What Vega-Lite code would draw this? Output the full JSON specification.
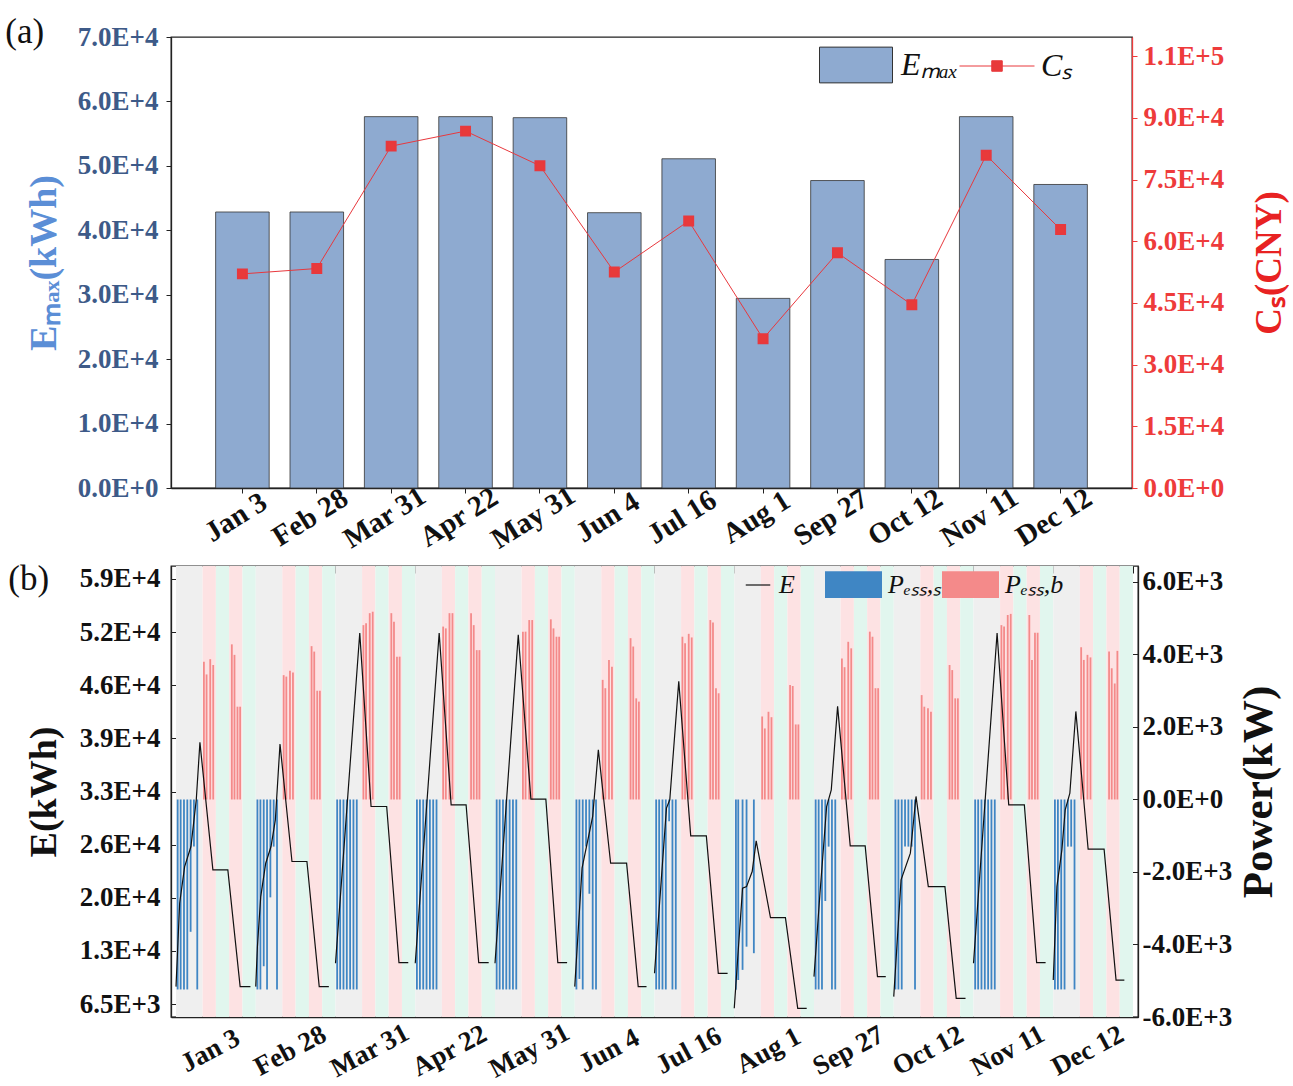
{
 "$schema": "https://vega.github.io/schema/vega-lite/v6.json",
 "background": "white",
 "padding": {"left": 4, "top": 14, "right": 0, "bottom": 0},
 "spacing": 0,
 "resolve": {"scale": {"fill": "independent", "stroke": "independent", "color": "independent"}},
 "config": {
  "font": "Liberation Serif",
  "view": {"stroke": "#222", "strokeWidth": 1.3},
  "axis": {"labelFont": "Liberation Serif", "labelFontWeight": "bold", "labelFontSize": 27, "titleFont": "Liberation Serif", "titleFontWeight": "bold", "grid": false, "domainColor": "#222", "domainWidth": 1.3, "tickColor": "#222", "tickSize": 5, "labelColor": "#111", "titleColor": "#111"},
  "legend": {"labelFont": "Liberation Serif", "labelFontStyle": "italic", "labelColor": "#111", "padding": 0},
  "title": {"font": "Liberation Serif", "fontWeight": "normal", "fontSize": 35, "anchor": "start", "frame": "bounds", "color": "#111", "baseline": "top"}
 },
 "datasets": {
  "a": [
   {"m": "Jan 3", "e": 42840, "c": 52080},
   {"m": "Feb 28", "e": 42840, "c": 53390},
   {"m": "Mar 31", "e": 57640, "c": 83160},
   {"m": "Apr 22", "e": 57640, "c": 86810},
   {"m": "May 31", "e": 57480, "c": 78390},
   {"m": "Jun 4", "e": 42730, "c": 52520},
   {"m": "Jul 16", "e": 51100, "c": 64950},
   {"m": "Aug 1", "e": 29430, "c": 36300},
   {"m": "Sep 27", "e": 47720, "c": 57200},
   {"m": "Oct 12", "e": 35470, "c": 44570},
   {"m": "Nov 11", "e": 57640, "c": 80960},
   {"m": "Dec 12", "e": 47110, "c": 62860}
  ],
  "bg": [
   {"a": 0, "b": 8, "k": "v"}, {"a": 8, "b": 12, "k": "p"}, {"a": 12, "b": 16, "k": "f"}, {"a": 16, "b": 20, "k": "p"}, {"a": 20, "b": 24, "k": "f"},
   {"a": 24, "b": 32, "k": "v"}, {"a": 32, "b": 36, "k": "p"}, {"a": 36, "b": 40, "k": "f"}, {"a": 40, "b": 44, "k": "p"}, {"a": 44, "b": 48, "k": "f"},
   {"a": 48, "b": 56, "k": "v"}, {"a": 56, "b": 60, "k": "p"}, {"a": 60, "b": 64, "k": "f"}, {"a": 64, "b": 68, "k": "p"}, {"a": 68, "b": 72, "k": "f"},
   {"a": 72, "b": 80, "k": "v"}, {"a": 80, "b": 84, "k": "p"}, {"a": 84, "b": 88, "k": "f"}, {"a": 88, "b": 92, "k": "p"}, {"a": 92, "b": 96, "k": "f"},
   {"a": 96, "b": 104, "k": "v"}, {"a": 104, "b": 108, "k": "p"}, {"a": 108, "b": 112, "k": "f"}, {"a": 112, "b": 116, "k": "p"}, {"a": 116, "b": 120, "k": "f"},
   {"a": 120, "b": 128, "k": "v"}, {"a": 128, "b": 132, "k": "p"}, {"a": 132, "b": 136, "k": "f"}, {"a": 136, "b": 140, "k": "p"}, {"a": 140, "b": 144, "k": "f"},
   {"a": 144, "b": 152, "k": "v"}, {"a": 152, "b": 156, "k": "p"}, {"a": 156, "b": 160, "k": "f"}, {"a": 160, "b": 164, "k": "p"}, {"a": 164, "b": 168, "k": "f"},
   {"a": 168, "b": 176, "k": "v"}, {"a": 176, "b": 180, "k": "p"}, {"a": 180, "b": 184, "k": "f"}, {"a": 184, "b": 188, "k": "p"}, {"a": 188, "b": 192, "k": "f"},
   {"a": 192, "b": 200, "k": "v"}, {"a": 200, "b": 204, "k": "p"}, {"a": 204, "b": 208, "k": "f"}, {"a": 208, "b": 212, "k": "p"}, {"a": 212, "b": 216, "k": "f"},
   {"a": 216, "b": 224, "k": "v"}, {"a": 224, "b": 228, "k": "p"}, {"a": 228, "b": 232, "k": "f"}, {"a": 232, "b": 236, "k": "p"}, {"a": 236, "b": 240, "k": "f"},
   {"a": 240, "b": 248, "k": "v"}, {"a": 248, "b": 252, "k": "p"}, {"a": 252, "b": 256, "k": "f"}, {"a": 256, "b": 260, "k": "p"}, {"a": 260, "b": 264, "k": "f"},
   {"a": 264, "b": 272, "k": "v"}, {"a": 272, "b": 276, "k": "p"}, {"a": 276, "b": 280, "k": "f"}, {"a": 280, "b": 284, "k": "p"}, {"a": 284, "b": 288, "k": "f"}
  ],
  "pw": [
   {"t": 0.5, "p": -5240, "s": "s"}, {"t": 1.4, "p": -5240, "s": "s"}, {"t": 2.4, "p": -5240, "s": "s"}, {"t": 3.4, "p": -5240, "s": "s"}, {"t": 4.4, "p": -3650, "s": "s"}, {"t": 5.4, "p": -1300, "s": "s"}, {"t": 6.4, "p": -5240, "s": "s"},
   {"t": 8.4, "p": 3800, "s": "b"}, {"t": 9.2, "p": 3450, "s": "b"}, {"t": 10.3, "p": 3870, "s": "b"}, {"t": 11.2, "p": 3710, "s": "b"}, {"t": 16.8, "p": 4280, "s": "b"}, {"t": 17.6, "p": 3990, "s": "b"}, {"t": 18.5, "p": 2560, "s": "b"}, {"t": 19.3, "p": 2560, "s": "b"},
   {"t": 24.5, "p": -5240, "s": "s"}, {"t": 25.4, "p": -5240, "s": "s"}, {"t": 26.4, "p": -4600, "s": "s"}, {"t": 27.4, "p": -5240, "s": "s"}, {"t": 28.4, "p": -2700, "s": "s"}, {"t": 29.4, "p": -1300, "s": "s"}, {"t": 30.4, "p": -5240, "s": "s"},
   {"t": 32.4, "p": 3430, "s": "b"}, {"t": 33.2, "p": 3390, "s": "b"}, {"t": 34.3, "p": 3550, "s": "b"}, {"t": 35.2, "p": 3500, "s": "b"}, {"t": 40.8, "p": 4230, "s": "b"}, {"t": 41.6, "p": 4080, "s": "b"}, {"t": 42.5, "p": 3000, "s": "b"}, {"t": 43.3, "p": 3000, "s": "b"},
   {"t": 48.5, "p": -5240, "s": "s"}, {"t": 49.4, "p": -5240, "s": "s"}, {"t": 50.4, "p": -5240, "s": "s"}, {"t": 51.4, "p": -5240, "s": "s"}, {"t": 52.4, "p": -5240, "s": "s"}, {"t": 53.4, "p": -5240, "s": "s"}, {"t": 54.4, "p": -5240, "s": "s"},
   {"t": 56.4, "p": 4810, "s": "b"}, {"t": 57.2, "p": 4860, "s": "b"}, {"t": 58.3, "p": 5140, "s": "b"}, {"t": 59.2, "p": 5180, "s": "b"}, {"t": 64.8, "p": 5140, "s": "b"}, {"t": 65.6, "p": 4900, "s": "b"}, {"t": 66.5, "p": 3940, "s": "b"}, {"t": 67.3, "p": 3940, "s": "b"},
   {"t": 72.5, "p": -5240, "s": "s"}, {"t": 73.4, "p": -5240, "s": "s"}, {"t": 74.4, "p": -5240, "s": "s"}, {"t": 75.4, "p": -5240, "s": "s"}, {"t": 76.4, "p": -5240, "s": "s"}, {"t": 77.4, "p": -5240, "s": "s"}, {"t": 78.4, "p": -5240, "s": "s"},
   {"t": 80.4, "p": 4770, "s": "b"}, {"t": 81.2, "p": 4720, "s": "b"}, {"t": 82.3, "p": 5140, "s": "b"}, {"t": 83.2, "p": 5140, "s": "b"}, {"t": 88.8, "p": 5140, "s": "b"}, {"t": 89.6, "p": 4810, "s": "b"}, {"t": 90.5, "p": 4120, "s": "b"}, {"t": 91.3, "p": 4120, "s": "b"},
   {"t": 96.5, "p": -5240, "s": "s"}, {"t": 97.4, "p": -5240, "s": "s"}, {"t": 98.4, "p": -5240, "s": "s"}, {"t": 99.4, "p": -5240, "s": "s"}, {"t": 100.4, "p": -5240, "s": "s"}, {"t": 101.4, "p": -5240, "s": "s"}, {"t": 102.4, "p": -5240, "s": "s"},
   {"t": 104.4, "p": 4630, "s": "b"}, {"t": 105.2, "p": 4630, "s": "b"}, {"t": 106.3, "p": 4950, "s": "b"}, {"t": 107.2, "p": 4950, "s": "b"}, {"t": 112.8, "p": 4970, "s": "b"}, {"t": 113.6, "p": 4720, "s": "b"}, {"t": 114.5, "p": 4490, "s": "b"}, {"t": 115.3, "p": 4490, "s": "b"},
   {"t": 120.5, "p": -5240, "s": "s"}, {"t": 121.4, "p": -4950, "s": "s"}, {"t": 122.4, "p": -5240, "s": "s"}, {"t": 123.4, "p": -1300, "s": "s"}, {"t": 124.4, "p": -2600, "s": "s"}, {"t": 125.4, "p": -5240, "s": "s"}, {"t": 126.4, "p": -5240, "s": "s"},
   {"t": 128.4, "p": 3300, "s": "b"}, {"t": 129.2, "p": 3070, "s": "b"}, {"t": 130.3, "p": 3850, "s": "b"}, {"t": 131.2, "p": 3660, "s": "b"}, {"t": 136.8, "p": 4450, "s": "b"}, {"t": 137.6, "p": 4220, "s": "b"}, {"t": 138.5, "p": 2790, "s": "b"}, {"t": 139.3, "p": 2700, "s": "b"},
   {"t": 144.5, "p": -5240, "s": "s"}, {"t": 145.4, "p": -5240, "s": "s"}, {"t": 146.4, "p": -5240, "s": "s"}, {"t": 147.4, "p": -5240, "s": "s"}, {"t": 148.4, "p": -600, "s": "s"}, {"t": 149.4, "p": -5240, "s": "s"}, {"t": 150.4, "p": -5240, "s": "s"},
   {"t": 152.4, "p": 4490, "s": "b"}, {"t": 153.2, "p": 4310, "s": "b"}, {"t": 154.3, "p": 4570, "s": "b"}, {"t": 155.2, "p": 4470, "s": "b"}, {"t": 160.8, "p": 4950, "s": "b"}, {"t": 161.6, "p": 4880, "s": "b"}, {"t": 162.5, "p": 3070, "s": "b"}, {"t": 163.3, "p": 2930, "s": "b"},
   {"t": 168.5, "p": -5250, "s": "s"}, {"t": 169.2, "p": -4980, "s": "s"}, {"t": 170.5, "p": -4700, "s": "s"}, {"t": 171.7, "p": -4060, "s": "s"}, {"t": 173.9, "p": -4240, "s": "s"},
   {"t": 176.4, "p": 2290, "s": "b"}, {"t": 177.2, "p": 1960, "s": "b"}, {"t": 178.3, "p": 2420, "s": "b"}, {"t": 179.2, "p": 2270, "s": "b"}, {"t": 184.8, "p": 3160, "s": "b"}, {"t": 185.6, "p": 3130, "s": "b"}, {"t": 186.5, "p": 2070, "s": "b"}, {"t": 187.3, "p": 2070, "s": "b"},
   {"t": 192.5, "p": -5240, "s": "s"}, {"t": 193.4, "p": -5240, "s": "s"}, {"t": 194.4, "p": -5240, "s": "s"}, {"t": 195.4, "p": -2800, "s": "s"}, {"t": 196.4, "p": -1300, "s": "s"}, {"t": 197.4, "p": -5240, "s": "s"}, {"t": 198.4, "p": -5240, "s": "s"},
   {"t": 200.4, "p": 3890, "s": "b"}, {"t": 201.2, "p": 3650, "s": "b"}, {"t": 202.3, "p": 4350, "s": "b"}, {"t": 203.2, "p": 4170, "s": "b"}, {"t": 208.8, "p": 4630, "s": "b"}, {"t": 209.6, "p": 4490, "s": "b"}, {"t": 210.5, "p": 3070, "s": "b"}, {"t": 211.3, "p": 3070, "s": "b"},
   {"t": 216.5, "p": -5240, "s": "s"}, {"t": 217.4, "p": -5240, "s": "s"}, {"t": 218.4, "p": -5240, "s": "s"}, {"t": 219.4, "p": -1300, "s": "s"}, {"t": 220.4, "p": -1300, "s": "s"}, {"t": 221.4, "p": -1300, "s": "s"}, {"t": 222.4, "p": -5240, "s": "s"},
   {"t": 224.4, "p": 2880, "s": "b"}, {"t": 225.2, "p": 2560, "s": "b"}, {"t": 226.3, "p": 2520, "s": "b"}, {"t": 227.2, "p": 2420, "s": "b"}, {"t": 232.8, "p": 3710, "s": "b"}, {"t": 233.6, "p": 3570, "s": "b"}, {"t": 234.5, "p": 2790, "s": "b"}, {"t": 235.3, "p": 2790, "s": "b"},
   {"t": 240.5, "p": -5240, "s": "s"}, {"t": 241.4, "p": -5240, "s": "s"}, {"t": 242.4, "p": -5240, "s": "s"}, {"t": 243.4, "p": -5240, "s": "s"}, {"t": 244.4, "p": -5240, "s": "s"}, {"t": 245.4, "p": -5240, "s": "s"}, {"t": 246.4, "p": -5240, "s": "s"},
   {"t": 248.4, "p": 4810, "s": "b"}, {"t": 249.2, "p": 4770, "s": "b"}, {"t": 250.3, "p": 5090, "s": "b"}, {"t": 251.2, "p": 5120, "s": "b"}, {"t": 256.8, "p": 5090, "s": "b"}, {"t": 257.6, "p": 3850, "s": "b"}, {"t": 258.5, "p": 4600, "s": "b"}, {"t": 259.3, "p": 4600, "s": "b"},
   {"t": 264.5, "p": -5240, "s": "s"}, {"t": 265.4, "p": -5240, "s": "s"}, {"t": 266.4, "p": -5240, "s": "s"}, {"t": 267.4, "p": -5240, "s": "s"}, {"t": 268.4, "p": -1300, "s": "s"}, {"t": 269.4, "p": -1300, "s": "s"}, {"t": 270.4, "p": -5240, "s": "s"},
   {"t": 272.4, "p": 4200, "s": "b"}, {"t": 273.2, "p": 3850, "s": "b"}, {"t": 274.3, "p": 3990, "s": "b"}, {"t": 275.2, "p": 3920, "s": "b"}, {"t": 280.8, "p": 4080, "s": "b"}, {"t": 281.6, "p": 3620, "s": "b"}, {"t": 282.5, "p": 3200, "s": "b"}, {"t": 283.3, "p": 4100, "s": "b"}
  ],
  "en": [
   {"d": 0, "t": 0, "e": 8690}, {"d": 0, "t": 1.1, "e": 18970}, {"d": 0, "t": 2.6, "e": 23490}, {"d": 0, "t": 4.5, "e": 25960}, {"d": 0, "t": 5.3, "e": 28840}, {"d": 0, "t": 6.1, "e": 31720}, {"d": 0, "t": 7.2, "e": 38800}, {"d": 0, "t": 11.1, "e": 23080}, {"d": 0, "t": 15.6, "e": 23080}, {"d": 0, "t": 19.3, "e": 8690}, {"d": 0, "t": 22.4, "e": 8690},
   {"d": 1, "t": 24, "e": 8690}, {"d": 1, "t": 24.5, "e": 13620}, {"d": 1, "t": 25.5, "e": 19790}, {"d": 1, "t": 27, "e": 23900}, {"d": 1, "t": 28.6, "e": 25960}, {"d": 1, "t": 29.9, "e": 29250}, {"d": 1, "t": 31.3, "e": 38600}, {"d": 1, "t": 34.9, "e": 24110}, {"d": 1, "t": 39.4, "e": 24110}, {"d": 1, "t": 43.1, "e": 8690}, {"d": 1, "t": 46, "e": 8690},
   {"d": 2, "t": 48, "e": 11570}, {"d": 2, "t": 55.3, "e": 52280}, {"d": 2, "t": 58.7, "e": 30890}, {"d": 2, "t": 63.4, "e": 30890}, {"d": 2, "t": 67.1, "e": 11650}, {"d": 2, "t": 69.9, "e": 11650},
   {"d": 3, "t": 72, "e": 11570}, {"d": 3, "t": 79.2, "e": 52280}, {"d": 3, "t": 82.8, "e": 31100}, {"d": 3, "t": 87.3, "e": 31100}, {"d": 3, "t": 91.1, "e": 11650}, {"d": 3, "t": 94.1, "e": 11650},
   {"d": 4, "t": 96, "e": 11570}, {"d": 4, "t": 103, "e": 52070}, {"d": 4, "t": 106.8, "e": 31800}, {"d": 4, "t": 111.3, "e": 31800}, {"d": 4, "t": 114.9, "e": 11650}, {"d": 4, "t": 117.7, "e": 11650},
   {"d": 5, "t": 120, "e": 8690}, {"d": 5, "t": 122.2, "e": 23290}, {"d": 5, "t": 125.4, "e": 29660}, {"d": 5, "t": 127.1, "e": 37880}, {"d": 5, "t": 130.8, "e": 23900}, {"d": 5, "t": 135.6, "e": 23900}, {"d": 5, "t": 139.1, "e": 8690}, {"d": 5, "t": 141.6, "e": 8690},
   {"d": 6, "t": 144, "e": 10330}, {"d": 6, "t": 147.6, "e": 30690}, {"d": 6, "t": 148.6, "e": 31720}, {"d": 6, "t": 151.3, "e": 46310}, {"d": 6, "t": 154.9, "e": 27270}, {"d": 6, "t": 159.6, "e": 27270}, {"d": 6, "t": 163.2, "e": 10330}, {"d": 6, "t": 166, "e": 10330},
   {"d": 7, "t": 168, "e": 6020}, {"d": 7, "t": 170.5, "e": 20820}, {"d": 7, "t": 171.7, "e": 21020}, {"d": 7, "t": 173.4, "e": 22880}, {"d": 7, "t": 174.6, "e": 26660}, {"d": 7, "t": 178.9, "e": 17200}, {"d": 7, "t": 183.4, "e": 17200}, {"d": 7, "t": 187.1, "e": 6020}, {"d": 7, "t": 189.8, "e": 6020},
   {"d": 8, "t": 192, "e": 9920}, {"d": 8, "t": 193.8, "e": 20200}, {"d": 8, "t": 195.8, "e": 30890}, {"d": 8, "t": 197.2, "e": 32950}, {"d": 8, "t": 199.1, "e": 43230}, {"d": 8, "t": 202.9, "e": 26040}, {"d": 8, "t": 207.4, "e": 26040}, {"d": 8, "t": 211.1, "e": 9920}, {"d": 8, "t": 213.6, "e": 9920},
   {"d": 9, "t": 216, "e": 7460}, {"d": 9, "t": 218.2, "e": 21850}, {"d": 9, "t": 221, "e": 25140}, {"d": 9, "t": 222.7, "e": 32130}, {"d": 9, "t": 226.4, "e": 21020}, {"d": 9, "t": 231.4, "e": 21020}, {"d": 9, "t": 234.8, "e": 7250}, {"d": 9, "t": 237.6, "e": 7250},
   {"d": 10, "t": 240, "e": 11570}, {"d": 10, "t": 247.1, "e": 52280}, {"d": 10, "t": 250.6, "e": 31100}, {"d": 10, "t": 255.3, "e": 31100}, {"d": 10, "t": 259, "e": 11650}, {"d": 10, "t": 261.7, "e": 11650},
   {"d": 11, "t": 264, "e": 9500}, {"d": 11, "t": 265.1, "e": 21020}, {"d": 11, "t": 266.6, "e": 25550}, {"d": 11, "t": 267.6, "e": 30480}, {"d": 11, "t": 269, "e": 32540}, {"d": 11, "t": 270.8, "e": 42610}, {"d": 11, "t": 274.5, "e": 25630}, {"d": 11, "t": 279.3, "e": 25630}, {"d": 11, "t": 282.9, "e": 9500}, {"d": 11, "t": 285.4, "e": 9500}
  ]
 },
 "vconcat": [
  {
   "width": 961,
   "height": 451,
   "title": {"text": "(a)", "offset": -27, "dx": -20},
   "data": {"name": "a"},
   "encoding": {
    "x": {"field": "m", "type": "nominal", "sort": null, "scale": {"paddingInner": 0.28, "paddingOuter": 0.6},
      "axis": {"title": null, "labelAngle": -32, "labelFontSize": 29, "labelAlign": "center", "labelBaseline": "top", "labelPadding": 12, "labelOffset": -14, "labelColor": "#111"}}
   },
   "layer": [
    {
     "mark": {"type": "bar", "stroke": "#333", "strokeWidth": 0.8},
     "encoding": {
      "y": {"field": "e", "type": "quantitative", "scale": {"domain": [0, 70000], "nice": false},
        "axis": {"values": [0, 10000, 20000, 30000, 40000, 50000, 60000, 70000], "labelExpr": "replace(format(datum.value, '.1e'), 'e', 'E')", "labelColor": "#3d5a88", "labelPadding": 8, "title": "Eₘₐₓ(kWh)", "titleColor": "#5b8ed6", "titleFontSize": 38, "titlePadding": 14}},
      "fill": {"datum": "Eₘₐₓ", "scale": {"range": ["#8eaad0"]},
        "legend": {"title": null, "orient": "none", "legendX": 648, "legendY": -9, "symbolType": "M-1,-0.49H1V0.49H-1Z", "symbolSize": 5329, "symbolStrokeColor": "#333", "symbolStrokeWidth": 1, "labelFontSize": 32, "labelOffset": 8}}
     }
    },
    {
     "mark": {"type": "line", "strokeWidth": 1, "point": {"shape": "square", "size": 80, "filled": true, "color": "#e83a3a"}},
     "encoding": {
      "y": {"field": "c", "type": "quantitative", "scale": {"domain": [0, 109700], "nice": false},
        "axis": {"orient": "right", "values": [0, 15000, 30000, 45000, 60000, 75000, 90000, 105000], "labelExpr": "replace(format(datum.value, '.1e'), 'e', 'E')", "labelColor": "#ee3b3b", "domainColor": "#ee3b3b", "tickColor": "#ee3b3b", "labelPadding": 6, "title": "Cₛ(CNY)", "titleColor": "#e82222", "titleFontSize": 37, "titlePadding": 28, "titleAngle": 270, "titleBaseline": "top"}},
      "stroke": {"datum": "Cₛ", "scale": {"range": ["#e8383d"]},
        "legend": {"title": null, "orient": "none", "legendX": 788, "legendY": -9, "symbolType": "M-1,0H1M-0.14,-0.14H0.14V0.14H-0.14Z", "symbolSize": 5625, "symbolStrokeWidth": 1, "labelFontSize": 32, "labelOffset": 6,
          "encode": {"symbols": {"update": {"fill": {"value": "#e83a3a"}, "stroke": {"value": "#e83a3a"}}}}}}
     }
    }
   ],
   "resolve": {"scale": {"y": "independent"}}
  },
  {
   "width": 967,
   "height": 451,
   "title": {"text": "(b)", "offset": -41, "dx": -17},
   "layer": [
    {
     "data": {"name": "bg"},
     "mark": {"type": "rect"},
     "encoding": {
      "x": {"field": "a", "type": "quantitative", "scale": {"domain": [0, 288], "nice": false, "zero": false},
        "axis": {"title": null, "values": [12, 36, 60, 84, 108, 132, 156, 180, 204, 228, 252, 276], "ticks": false, "labelOverlap": false, "labelFlush": false, "labelBound": false, "labelAngle": -28, "labelAlign": "center", "labelBaseline": "top", "labelPadding": 22, "labelOffset": -12, "labelColor": "#111",
          "labelExpr": "['Jan 3','Feb 28','Mar 31','Apr 22','May 31','Jun 4','Jul 16','Aug 1','Sep 27','Oct 12','Nov 11','Dec 12'][floor(datum.value/24)]"}},
      "x2": {"field": "b"},
      "color": {"field": "k", "type": "nominal", "scale": {"domain": ["v", "p", "f"], "range": ["#efefef", "#fde2e3", "#e1f6ee"]}, "legend": null}
     }
    },
    {
     "data": {"name": "pw"},
     "mark": {"type": "bar", "width": 1.8, "orient": "vertical"},
     "encoding": {
      "x": {"field": "t", "type": "quantitative", "scale": {"domain": [0, 288], "nice": false, "zero": false},
        "axis": {"title": null, "values": [0, 24, 48, 72, 96, 120, 144, 168, 192, 216, 240, 264, 288], "labels": false, "ticks": true, "tickSize": -7, "domain": false}},
      "y": {"field": "p", "type": "quantitative", "scale": {"domain": [-6000, 6441], "nice": false, "zero": false},
        "axis": {"orient": "right", "values": [-6000, -4000, -2000, 0, 2000, 4000, 6000], "labelExpr": "replace(replace(format(datum.value, '.1e'), 'e', 'E'), '−', '-')", "tickSize": -7, "labelPadding": 11, "title": "Power(kW)", "titleFontSize": 43, "titlePadding": 6, "titleAngle": 270, "titleBaseline": "top"}},
      "y2": {"datum": 0},
      "fill": {"field": "s", "type": "nominal", "scale": {"domain": ["s", "b"], "range": ["#3f86c4", "#f48a8a"]},
        "legend": {"title": null, "orient": "none", "direction": "horizontal", "legendX": 654, "legendY": -10, "symbolType": "M-1,-0.47H1V0.47H-1Z", "symbolSize": 3249, "symbolStrokeWidth": 0, "labelFontSize": 26, "labelOffset": 6, "columnPadding": 0,
          "labelExpr": "datum.label == 's' ? 'Pₑₛₛ,ₛ' : 'Pₑₛₛ,b'"}}
     }
    },
    {
     "data": {"name": "en"},
     "mark": {"type": "line", "strokeWidth": 1.2},
     "encoding": {
      "x": {"field": "t", "type": "quantitative", "scale": {"domain": [0, 288], "nice": false, "zero": false}, "axis": null},
      "y": {"field": "e", "type": "quantitative", "scale": {"domain": [4946, 60534], "nice": false, "zero": false},
        "axis": {"orient": "left", "values": [6548, 13096, 19644, 26192, 32740, 39288, 45836, 52384, 58932], "labelExpr": "replace(format(datum.value, '.1e'), 'e', 'E')", "tickSize": -7, "labelPadding": 18, "title": "E(kWh)", "titleFontSize": 38, "titlePadding": 16}},
      "detail": {"field": "d"},
      "stroke": {"datum": "E", "scale": {"range": ["#111"]},
        "legend": {"title": null, "orient": "none", "legendX": 574, "legendY": 6, "symbolType": "stroke", "symbolSize": 600, "symbolStrokeWidth": 1.2, "labelFontSize": 26, "labelOffset": 8}}
     }
    }
   ],
   "resolve": {"scale": {"y": "independent"}, "axis": {"x": "independent"}}
  }
 ]
}
